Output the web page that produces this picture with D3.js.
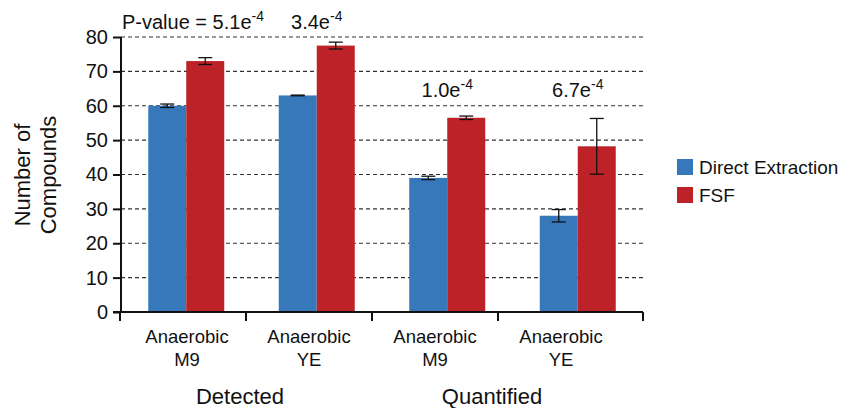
<!DOCTYPE html>
<html>
<head>
<meta charset="utf-8">
<script src="https://cdn.jsdelivr.net/npm/d3@7"></script>
<style>
  body { margin: 0; background: #fff; }
  text { font-family: 'Liberation Sans', Arial, Helvetica, sans-serif; fill: #111; }
</style>
</head>
<body>
<div id="chart"></div>
<script>
// data
var categories = ['Detected M9', 'Detected YE', 'Quantified M9', 'Quantified YE']
var catLine1 = ['Anaerobic', 'Anaerobic', 'Anaerobic', 'Anaerobic']
var catLine2 = ['M9', 'YE', 'M9', 'YE']
var groups = ['Detected', 'Quantified']
var series = ['Direct Extraction', 'FSF']
var directValues = [60, 63, 39, 28]
var directErrors = [0.5, 0.1, 0.5, 1.8]
var fsfValues = [73, 77.5, 56.5, 48.2]
var fsfErrors = [1.0, 1.0, 0.5, 8.1]
var pValues = ['5.1', '3.4', '1.0', '6.7']
var yTicks = [0, 10, 20, 30, 40, 50, 60, 70, 80]

var colors = { 'Direct Extraction': '#3778ba', 'FSF': '#bc2227' }

var width = 841
var height = 408

var svg = d3.select('#chart')
  .append('svg')
  .attr('width', width)
  .attr('height', height)

// scales
var x = d3.scaleBand().domain(categories).range([121, 643])
var xSub = d3.scaleBand().domain(series).range([0, 76])
var y = d3.scaleLinear().domain([0, 80]).range([312, 37])
// dividers on the x axis sit slightly left of the band edges in the original
var xDiv = d3.scalePoint().domain(d3.range(5)).range([120, 624])

var rows = categories.map(function (c, i) {
  return [
    { cat: c, s: 'Direct Extraction', v: directValues[i], e: directErrors[i] },
    { cat: c, s: 'FSF', v: fsfValues[i], e: fsfErrors[i] }
  ]
})

// dashed grid
svg.append('g')
  .selectAll('line')
  .data(yTicks.slice(1))
  .enter()
  .append('line')
  .attr('x1', 121)
  .attr('x2', 643)
  .attr('y1', d => y(d))
  .attr('y2', d => y(d))
  .attr('stroke', '#333')
  .attr('stroke-width', 1.2)
  .attr('stroke-dasharray', '4,3')

// bars
var barG = svg.append('g')
rows.forEach(function (pair) {
  pair.forEach(function (d) {
    var bx = x(d.cat) + (x.bandwidth() - 76) / 2 + xSub(d.s)
    barG.append('rect')
      .attr('x', bx)
      .attr('y', y(d.v))
      .attr('width', xSub.bandwidth())
      .attr('height', y(0) - y(d.v))
      .attr('fill', colors[d.s])
  })
})

// error bars
var errG = svg.append('g').attr('stroke', '#111').attr('stroke-width', 1.3)
rows.forEach(function (pair) {
  pair.forEach(function (d) {
    var cx = x(d.cat) + (x.bandwidth() - 76) / 2 + xSub(d.s) + xSub.bandwidth() / 2
    var top = y(d.v + d.e)
    var bot = y(d.v - d.e)
    errG.append('line').attr('x1', cx).attr('x2', cx).attr('y1', top).attr('y2', bot)
    errG.append('line').attr('x1', cx - 7).attr('x2', cx + 7).attr('y1', top).attr('y2', top)
    errG.append('line').attr('x1', cx - 7).attr('x2', cx + 7).attr('y1', bot).attr('y2', bot)
  })
})

// y axis
var yAxis = svg.append('g')
  .attr('transform', 'translate(121,0)')
  .call(d3.axisLeft(y).tickValues(yTicks).tickSize(8).tickPadding(5))
yAxis.selectAll('path, line').attr('stroke', '#111').attr('stroke-width', 2)
yAxis.select('.domain').attr('d', 'M0,' + y(80) + 'V' + y(0))
yAxis.selectAll('text').attr('font-size', 20).attr('fill', '#111')
  .style('font-family', "'Liberation Sans', Arial, sans-serif")

// x axis line and dividers
svg.append('line')
  .attr('x1', 113).attr('x2', 643)
  .attr('y1', y(0)).attr('y2', y(0))
  .attr('stroke', '#111').attr('stroke-width', 2)
svg.append('g')
  .selectAll('line')
  .data(d3.range(5))
  .enter()
  .append('line')
  .attr('x1', d => d === 4 ? 643 : xDiv(d))
  .attr('x2', d => d === 4 ? 643 : xDiv(d))
  .attr('y1', y(0))
  .attr('y2', y(0) + 9)
  .attr('stroke', '#111')
  .attr('stroke-width', 2)

// category labels
var catG = svg.append('g')
categories.forEach(function (c, i) {
  var cx = i === 0 ? 187 : (xDiv(i) + xDiv(i + 1)) / 2
  var t = catG.append('text')
    .attr('x', cx)
    .attr('text-anchor', 'middle')
    .attr('font-size', 18.5)
  t.append('tspan').attr('x', cx).attr('y', 343).text(catLine1[i])
  t.append('tspan').attr('x', cx).attr('y', 366).text(catLine2[i])
})

// group labels
svg.selectAll('.grp')
  .data(groups)
  .enter()
  .append('text')
  .attr('class', 'grp')
  .attr('x', (d, i) => i === 0 ? 240 : 492)
  .attr('y', 404)
  .attr('text-anchor', 'middle')
  .attr('font-size', 22)
  .text(d => d)

// p-values
var pG = svg.append('g')
pValues.forEach(function (p, i) {
  var cx = x(categories[i]) + x.bandwidth() / 2
  var ty = i < 2 ? 29 : 97
  var t = pG.append('text')
    .attr('x', i === 0 ? 122 : cx)
    .attr('y', ty)
    .attr('text-anchor', i === 0 ? 'start' : 'middle')
    .attr('font-size', 20)
  t.append('tspan').text((i === 0 ? 'P-value = ' : '') + p + 'e')
  t.append('tspan').attr('dy', -8).attr('font-size', 14).text('-4')
})

// y-axis title
svg.append('text')
  .attr('transform', 'translate(30,175) rotate(-90)')
  .attr('text-anchor', 'middle')
  .attr('font-size', 22)
  .selectAll('tspan')
  .data(['Number of', 'Compounds'])
  .enter()
  .append('tspan')
  .attr('x', 0)
  .attr('dy', (d, i) => i === 0 ? 0 : 26)
  .text(d => d)

// legend
var legend = svg.append('g').attr('transform', 'translate(677,159)')
series.forEach(function (s, i) {
  legend.append('rect')
    .attr('x', 0)
    .attr('y', i * 28)
    .attr('width', 16)
    .attr('height', 16)
    .attr('fill', colors[s])
  legend.append('text')
    .attr('x', 22)
    .attr('y', i * 28 + 15)
    .attr('font-size', 19)
    .text(s)
})
</script>
</body>
</html>
